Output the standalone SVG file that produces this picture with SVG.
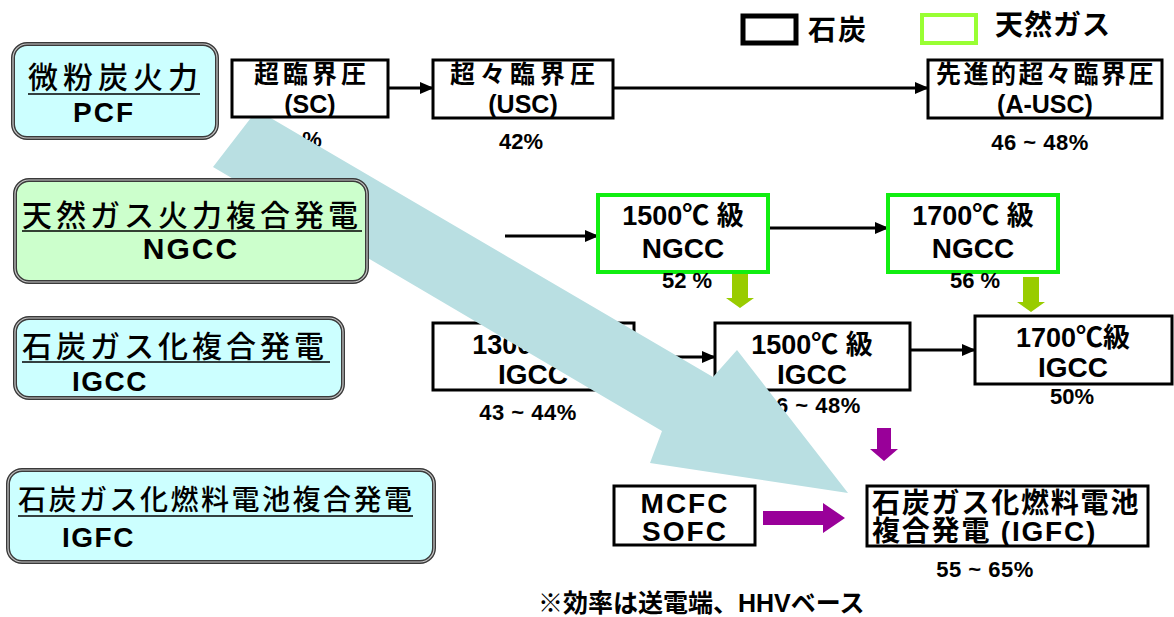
<svg xmlns="http://www.w3.org/2000/svg" width="1174" height="617" viewBox="0 0 1174 617">
<defs>
<style>
text{font-family:"Liberation Sans","Noto Sans CJK JP",sans-serif;fill:#000}
.b{font-weight:bold}
.m{text-anchor:middle}
.box{fill:#fff;stroke:#000;stroke-width:3}
.gbox{fill:#fff;stroke:#11ee11;stroke-width:4}
.catO{stroke:#3a3a3a;stroke-width:4}
.catI{fill:none;stroke:#c8c8c8;stroke-width:1.2}
.cyan{fill:#ccffff}
.green{fill:#ccffcc}
.ul{stroke:#000;stroke-width:1.5}
.con{stroke:#000;stroke-width:3;fill:none;marker-end:url(#ah)}
.pct{font-size:22px;font-weight:bold}
</style>
<marker id="ah" markerUnits="userSpaceOnUse" markerWidth="14" markerHeight="12" viewBox="0 0 14 12" refX="13" refY="6" orient="auto">
<path d="M0,0 L14,6 L0,12 z" fill="#000"/>
</marker>
</defs>
<rect width="1174" height="617" fill="#fff"/>

<g id="legend">
<rect x="743" y="16" width="53" height="27" fill="none" stroke="#000" stroke-width="5"/>
<text x="808" y="40" font-size="28" letter-spacing="2" class="b">石炭</text>
<rect x="922" y="15" width="54" height="28" fill="none" stroke="#99ff33" stroke-width="4"/>
<text x="995" y="35" font-size="28" letter-spacing="1" class="b">天然ガス</text>
</g>

<g id="connectors">
<line class="con" x1="388" y1="88" x2="433" y2="88"/>
<line class="con" x1="613" y1="88" x2="928" y2="88"/>
<line class="con" x1="505" y1="236" x2="598" y2="236"/>
<line class="con" x1="768" y1="228" x2="888" y2="228"/>
<line class="con" x1="634" y1="357" x2="715" y2="357"/>
<line class="con" x1="910" y1="350" x2="975" y2="350"/>
<polygon points="732,273 748,273 748,298 754,298 740,308 726,298 732,298" fill="#99cc00"/>
<polygon points="1023,277 1039,277 1039,302 1045,302 1031,312 1017,302 1023,302" fill="#99cc00"/>
<polygon points="877,428 891,428 891,449 898,449 884,461 870,449 877,449" fill="#990099"/>
<polygon points="763,511 823,511 823,503 845,518 823,533 823,525 763,525" fill="#990099"/>
</g>

<g id="usc">
<rect class="box" x="433" y="60" width="180" height="58"/>
<text class="b m" x="525" y="83" font-size="25" letter-spacing="5">超々臨界圧</text>
<text class="b m" x="523" y="113" font-size="25">(USC)</text>
<text class="pct m" x="521" y="149">42%</text>
</g>

<g id="ausc">
<rect class="box" x="928" y="60" width="234" height="58"/>
<text class="b m" x="1046" y="83" font-size="25" letter-spacing="2.5">先進的超々臨界圧</text>
<text class="b m" x="1045" y="113" font-size="25">(A-USC)</text>
<text class="pct m" x="1040" y="150" letter-spacing="0.5">46 ~ 48%</text>
</g>

<g id="sc-pct">
<text class="pct m" x="312" y="147">%</text>
</g>

<g id="ngcc1500">
<rect class="gbox" x="598" y="195" width="170" height="77"/>
<text class="b m" x="683" y="225" font-size="27">1500℃ 級</text>
<text class="b m" x="683" y="258" font-size="28">NGCC</text>
<text class="pct m" x="687" y="288">52 %</text>
</g>

<g id="ngcc1700">
<rect class="gbox" x="888" y="195" width="170" height="77"/>
<text class="b m" x="973" y="225" font-size="27">1700℃ 級</text>
<text class="b m" x="973" y="258" font-size="28">NGCC</text>
<text class="pct m" x="975" y="288">56 %</text>
</g>

<g id="igcc1300">
<rect class="box" x="433" y="323" width="201" height="67"/>
<text class="b m" x="533" y="354" font-size="27">1300℃ 級</text>
<text class="b m" x="533" y="384" font-size="28">IGCC</text>
<text class="pct m" x="528" y="420" letter-spacing="0.5">43 ~ 44%</text>
</g>

<g id="igcc1500">
<rect class="box" x="715" y="323" width="195" height="67"/>
<text class="b m" x="812" y="354" font-size="27">1500℃ 級</text>
<text class="b m" x="812" y="384" font-size="28">IGCC</text>
<text class="pct m" x="812" y="413" letter-spacing="0.5">46 ~ 48%</text>
</g>

<g id="igcc1700">
<rect class="box" x="975" y="316" width="197" height="68"/>
<text class="b m" x="1073" y="347" font-size="27">1700℃級</text>
<text class="b m" x="1073" y="377" font-size="28">IGCC</text>
<text class="pct m" x="1072" y="404">50%</text>
</g>

<g id="fc">
<rect class="box" x="614" y="486" width="141" height="59"/>
<text class="b m" x="685" y="513" font-size="28" letter-spacing="2">MCFC</text>
<text class="b m" x="685" y="541" font-size="28" letter-spacing="2">SOFC</text>
</g>

<g id="igfc-target">
<rect class="box" x="867" y="486" width="281" height="60"/>
<text class="b" x="872" y="513" font-size="28" letter-spacing="1.8">石炭ガス化燃料電池</text>
<text class="b" x="872" y="541" font-size="28" letter-spacing="1.8">複合発電 (IGFC)</text>
<text class="pct m" x="985" y="577" letter-spacing="0.5">55 ~ 65%</text>
</g>

<g id="cat-igcc">
<rect class="catO cyan" x="15" y="318" width="328" height="80" rx="14"/>
<rect class="catI" x="15" y="318" width="328" height="80" rx="14"/>
<text x="22" y="357" font-size="30" font-weight="500" letter-spacing="4">石炭ガス化複合発電</text>
<line class="ul" x1="22" y1="362" x2="330" y2="362"/>
<text class="b" x="72" y="391" font-size="28" letter-spacing="1.5">IGCC</text>
</g>

<g id="cat-igfc">
<rect class="catO cyan" x="8" y="470" width="426" height="92" rx="14"/>
<rect class="catI" x="8" y="470" width="426" height="92" rx="14"/>
<text x="18" y="510" font-size="28" font-weight="500" letter-spacing="2.5">石炭ガス化燃料電池複合発電</text>
<line class="ul" x1="18" y1="516" x2="413" y2="516"/>
<text class="b" x="62" y="547" font-size="28" letter-spacing="1.5">IGFC</text>
</g>

<g id="note">
<text class="b" x="538" y="612" font-size="25">※効率は送電端、HHVベース</text>
</g>

<g id="trend-arrow">
<polygon points="257,110 713,377 737,350 848,493 650,463 662,431 213,167" fill="#b9dfe2"/>
</g>

<g id="cat-pcf">
<rect class="catO cyan" x="13" y="44" width="204" height="94" rx="14"/>
<rect class="catI" x="13" y="44" width="204" height="94" rx="14"/>
<text x="28" y="88" font-size="30" font-weight="500" letter-spacing="5">微粉炭火力</text>
<line class="ul" x1="28" y1="94" x2="200" y2="94"/>
<text class="b m" x="104" y="122" font-size="28" letter-spacing="2">PCF</text>
</g>

<g id="sc">
<rect class="box" x="232" y="60" width="156" height="57"/>
<text class="b m" x="312" y="83" font-size="25" letter-spacing="4">超臨界圧</text>
<text class="b m" x="310" y="113" font-size="25">(SC)</text>
</g>

<g id="cat-ngcc">
<rect class="catO green" x="15" y="180" width="352" height="102" rx="14"/>
<rect class="catI" x="15" y="180" width="352" height="102" rx="14"/>
<text x="22" y="226" font-size="30" font-weight="500" letter-spacing="4">天然ガス火力複合発電</text>
<line class="ul" x1="22" y1="231" x2="362" y2="231"/>
<text class="b m" x="191" y="259" font-size="30" letter-spacing="2">NGCC</text>
</g>
</svg>
